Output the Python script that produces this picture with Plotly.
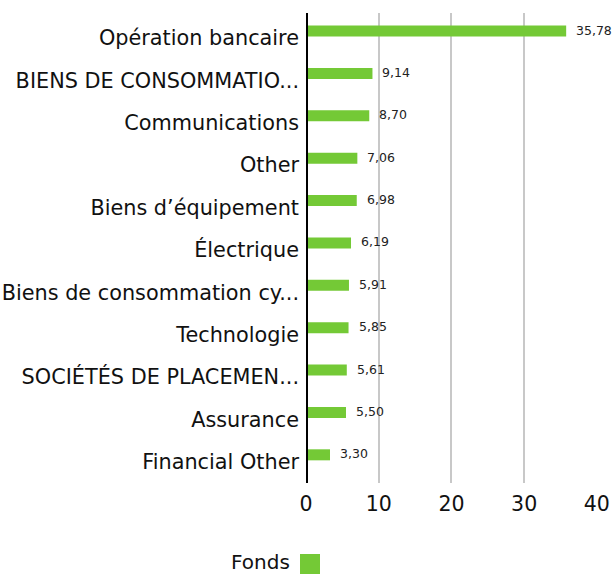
import plotly.graph_objects as go

categories = ["Opération bancaire", "BIENS DE CONSOMMATIO...", "Communications", "Other",
              "Biens d’équipement", "Électrique", "Biens de consommation cy...", "Technologie",
              "SOCIÉTÉS DE PLACEMEN...", "Assurance", "Financial Other"]
values = [35.78, 9.14, 8.70, 7.06, 6.98, 6.19, 5.91, 5.85, 5.61, 5.50, 3.30]
value_labels = ["35,78", "9,14", "8,70", "7,06", "6,98", "6,19", "5,91", "5,85", "5,61", "5,50", "3,30"]
x_ticks = [0, 10, 20, 30, 40]
series_name = "Fonds"

green = "#74c936"
font_family = "DejaVu Sans, Arial, sans-serif"

W, H = 614, 574
L, R, T, B = 306, 17, 13, 91
PW, PH = W - L - R, H - T - B

fig = go.Figure()
fig.add_trace(go.Bar(
    y=categories, x=values, orientation="h", name=series_name,
    marker=dict(color=green, line=dict(width=0)),
    width=0.26, offset=-0.295, showlegend=False, hoverinfo="skip",
))

for c, v, t in zip(categories, values, value_labels):
    fig.add_annotation(x=v, y=c, text=t, showarrow=False, xanchor="left",
                       xshift=8, yshift=8, font=dict(size=12.5, color="#222", family=font_family))

fig.update_layout(
    width=W, height=H, autosize=False,
    margin=dict(l=L, r=R, t=T, b=B, pad=0, autoexpand=False),
    paper_bgcolor="white", plot_bgcolor="white",
    font=dict(family=font_family, color="#111"),
    xaxis=dict(range=[0, 40.02], tickvals=x_ticks, ticktext=[str(t) for t in x_ticks],
               showgrid=True, gridcolor="#c8c8c8", gridwidth=2, automargin=False,
               zeroline=False, showline=False,
               tickfont=dict(size=20.5, color="#111"), ticks="", ticklabelstandoff=6),
    yaxis=dict(range=[10.5, -0.59], showgrid=False, zeroline=False, showline=False,
               automargin=False,
               tickfont=dict(size=20.8, color="#111"), ticks="", ticklabelstandoff=6),
)

# zero axis line
fig.add_shape(type="line", x0=0, x1=0, y0=0, y1=1, xref="x", yref="paper",
              line=dict(color="black", width=4))

# legend: text then square
fig.add_annotation(xref="paper", yref="paper", x=(292 - L) / PW, y=(T + PH - 562) / PH,
                   text=series_name, showarrow=False, xanchor="right", yanchor="middle",
                   font=dict(size=20, color="#111", family=font_family))
fig.add_shape(type="rect", xref="paper", yref="paper",
              x0=(300 - L) / PW, x1=(320 - L) / PW,
              y0=(T + PH - 575) / PH, y1=(T + PH - 554) / PH,
              fillcolor=green, line=dict(width=0))

fig.write_html("out.html", config={"displayModeBar": False},
               post_script="document.body.style.margin='0';document.body.style.overflow='hidden';")
